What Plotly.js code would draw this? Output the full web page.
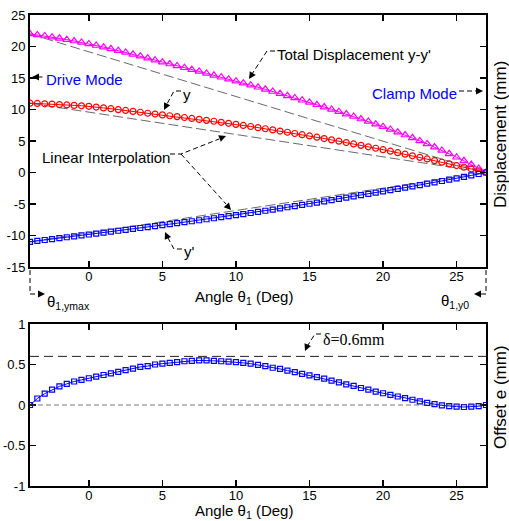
<!DOCTYPE html>
<html><head><meta charset="utf-8">
<script src="https://cdn.plot.ly/plotly-3.0.1.min.js"></script>
<style>html,body{margin:0;padding:0;background:#fff}#chart{width:509px;height:521px}</style>
</head><body><div id="chart"></div>
<script>
// ---- data ----
const angle = [-4,-3.5,-3,-2.5,-2,-1.5,-1,-0.5,0,0.5,1,1.5,2,2.5,3,3.5,4,4.5,5,5.5,6,6.5,7,7.5,8,8.5,9,9.5,10,10.5,11,11.5,12,12.5,13,13.5,14,14.5,15,15.5,16,16.5,17,17.5,18,18.5,19,19.5,20,20.5,21,21.5,22,22.5,23,23.5,24,24.5,25,25.5,26,26.5,27];
const yDisp = [11.00,10.96,10.90,10.85,10.78,10.72,10.65,10.59,10.51,10.39,10.25,10.13,9.98,9.85,9.70,9.56,9.40,9.28,9.14,9.01,8.87,8.73,8.58,8.43,8.28,8.13,7.97,7.81,7.64,7.47,7.30,7.12,6.94,6.76,6.58,6.39,6.19,6.00,5.80,5.60,5.39,5.18,4.97,4.75,4.53,4.31,4.08,3.85,3.62,3.38,3.14,2.90,2.65,2.40,2.15,1.89,1.63,1.37,1.10,0.83,0.56,0.28,0.00];
const yPrime = [-11.00,-10.86,-10.72,-10.57,-10.43,-10.28,-10.14,-9.99,-9.84,-9.69,-9.55,-9.40,-9.25,-9.10,-8.96,-8.81,-8.66,-8.51,-8.36,-8.20,-8.05,-7.89,-7.74,-7.58,-7.42,-7.26,-7.10,-6.93,-6.76,-6.60,-6.43,-6.25,-6.07,-5.89,-5.71,-5.52,-5.33,-5.15,-4.96,-4.77,-4.57,-4.38,-4.19,-3.99,-3.79,-3.60,-3.40,-3.20,-3.00,-2.80,-2.60,-2.40,-2.19,-1.99,-1.78,-1.57,-1.35,-1.14,-0.92,-0.70,-0.47,-0.24,0.00];
const totalDisp = [22.00,21.84,21.67,21.49,21.30,21.09,20.87,20.65,20.41,20.16,19.90,19.63,19.34,19.06,18.76,18.46,18.15,17.84,17.52,17.22,16.92,16.63,16.33,16.04,15.73,15.43,15.12,14.81,14.50,14.18,13.86,13.53,13.20,12.86,12.52,12.17,11.83,11.47,11.12,10.75,10.39,10.02,9.65,9.27,8.89,8.49,8.10,7.68,7.27,6.84,6.41,5.95,5.50,5.02,4.54,4.03,3.51,2.96,2.42,1.85,1.26,0.64,0.00];
const offsetE = [0.00,0.08,0.14,0.19,0.23,0.26,0.29,0.31,0.33,0.35,0.37,0.39,0.41,0.43,0.45,0.47,0.48,0.50,0.51,0.52,0.53,0.54,0.545,0.55,0.55,0.545,0.54,0.535,0.53,0.52,0.51,0.495,0.48,0.46,0.445,0.425,0.405,0.385,0.365,0.345,0.325,0.30,0.28,0.255,0.235,0.21,0.19,0.165,0.145,0.125,0.105,0.085,0.065,0.045,0.025,0.01,-0.005,-0.015,-0.02,-0.025,-0.02,-0.015,0.00];
const deltaLimit = 0.6;
const xTickVals = [0,5,10,15,20,25];
const xTickText = ['0','5','10','15','20','25'];
const yTopTickVals = [-15,-10,-5,0,5,10,15,20,25];
const yTopTickText = ['-15','-10','-5','0','5','10','15','20','25'];
const yBotTickVals = [-1,-0.5,0,0.5,1];
const yBotTickText = ['-1','-0.5','0','0.5','1'];

// ---- helpers (pixel -> paper) ----
const px = p => (p-30)/456;
const py = p => (486-p)/471;
const pathOf = pts => pts.map((q,i)=>(i?'L':'M')+px(q[0])+','+py(q[1])).join(' ');
const SANS = 'Liberation Sans, Arial, sans-serif';
const last = a => a[a.length-1];

function interp(series){
  return {x:[angle[0], last(angle)], y:[series[0], last(series)], mode:'lines', xaxis:'x', yaxis:'y',
    line:{color:'#444', width:0.8, dash:'10px,4px'}, hoverinfo:'skip', showlegend:false};
}
const traces = [
  interp(totalDisp), interp(yDisp), interp(yPrime),
  {x:angle, y:totalDisp, mode:'lines+markers', xaxis:'x', yaxis:'y',
   line:{color:'#ff00ff', width:1}, marker:{symbol:'triangle-up-open', size:7, color:'#ff00ff', line:{width:1.2}}},
  {x:angle, y:yDisp, mode:'lines+markers', xaxis:'x', yaxis:'y',
   line:{color:'#ff0000', width:1}, marker:{symbol:'circle-open', size:6, color:'#ff0000', line:{width:1.2}}},
  {x:angle, y:yPrime, mode:'lines+markers', xaxis:'x', yaxis:'y',
   line:{color:'#0000ff', width:1}, marker:{symbol:'square-open', size:5, color:'#0000ff', line:{width:1.2}}},
  {x:angle, y:offsetE, mode:'lines+markers', xaxis:'x2', yaxis:'y2',
   line:{color:'#0000ff', width:1}, marker:{symbol:'square-open', size:5, color:'#0000ff', line:{width:1.2}}}
];

const dashPath = pts => ({type:'path', xref:'paper', yref:'paper', path:pathOf(pts), line:{color:'#000', width:1, dash:'5px,3px'}});
const shapes = [
  dashPath([[275,51],[267,51],[252,74]]),
  dashPath([[181,91],[174,91],[167,104]]),
  dashPath([[170,154],[181,154],[219,139]]),
  dashPath([[181,154],[226,204]]),
  dashPath([[182,249],[174,249],[168,238]]),
  dashPath([[459,91],[476,91]]),
  dashPath([[30,270],[30,294],[38,294]]),
  dashPath([[486,270],[486,294],[480,294]]),
  dashPath([[321,334],[315,334],[308,345]]),
  {type:'line', xref:'paper', yref:'y2', x0:0, x1:1, y0:deltaLimit, y1:deltaLimit, line:{color:'#222', width:1, dash:'9px,5px'}},
  {type:'line', xref:'paper', yref:'y2', x0:0, x1:1, y0:0, y1:0, line:{color:'#555', width:0.8, dash:'5px,3px'}}
];

const arrow = (tx,ty,ax,ay) => ({xref:'paper', yref:'paper', x:px(tx), y:py(ty), ax:ax, ay:ay, text:'',
  showarrow:true, arrowhead:2, arrowsize:1.4, arrowwidth:1, arrowcolor:'#000'});
const label = (txt,x,y,xa,opts) => Object.assign({xref:'paper', yref:'paper', x:px(x), y:py(y), text:txt,
  showarrow:false, xanchor:xa, yanchor:'middle', font:{family:SANS, size:15, color:'#000'}}, opts||{});
const annotations = [
  arrow(249,79,4.5,-7), arrow(164,110,3.5,-7), arrow(226,136,-7.5,3), arrow(231,210,-5.4,-6),
  arrow(165,232,3,6.5), arrow(483,91,-8,0), arrow(32,77,12,0), arrow(45,294,-8,0), arrow(474,294,8,0),
  arrow(305,351,3,-7),
  label("Total Displacement y-y'",275,55,'left'),
  label('y',181,95,'left'),
  label('Linear Interpolation',40,157,'left'),
  label("y'",182,251,'left'),
  label('Drive Mode',44,80,'left',{font:{family:SANS,size:15,color:'#0000ff'}}),
  label('Clamp Mode',459,94,'right',{font:{family:SANS,size:15,color:'#0000ff'}}),
  label('θ<sub>1,ymax</sub>',45,302,'left'),
  label('θ<sub>1,y0</sub>',439,301,'left'),
  label('δ=0.6mm',321,339,'left',{font:{family:'Liberation Serif, Times New Roman, serif',size:16,color:'#000'}}),
  label('Angle θ<sub>1</sub> (Deg)',243.5,297,'center'),
  label('Angle θ<sub>1</sub> (Deg)',243.5,511,'center'),
  label('Displacement (mm)',500,135,'center',{textangle:-90,font:{family:SANS,size:17,color:'#000'}}),
  label('Offset e (mm)',500,397,'center',{textangle:-90,font:{family:SANS,size:17,color:'#000'}})
];

const axisBase = {showline:true, linecolor:'#000', linewidth:2, mirror:'ticks', ticks:'inside', ticklen:6,
  tickwidth:1.5, tickcolor:'#000', showgrid:false, zeroline:false, tickfont:{family:SANS, size:13, color:'#000'}};
const layout = {
  width:509, height:521, margin:{l:30, r:23, t:15, b:35}, paper_bgcolor:'#fff', plot_bgcolor:'#fff',
  showlegend:false, font:{family:SANS, color:'#000'},
  xaxis: Object.assign({}, axisBase, {domain:[0,1], anchor:'y', range:[-4,27], tickvals:xTickVals, ticktext:xTickText, ticklabelstandoff:-4}),
  yaxis: Object.assign({}, axisBase, {domain:[0.465,1], anchor:'x', range:[-15,25], tickvals:yTopTickVals, ticktext:yTopTickText}),
  xaxis2: Object.assign({}, axisBase, {domain:[0,1], anchor:'y2', range:[-4,27], tickvals:xTickVals, ticktext:xTickText, ticklabelstandoff:-4}),
  yaxis2: Object.assign({}, axisBase, {domain:[0,0.344], anchor:'x2', range:[-1,1], tickvals:yBotTickVals, ticktext:yBotTickText}),
  shapes: shapes, annotations: annotations
};
Plotly.newPlot('chart', traces, layout, {staticPlot:true, displayModeBar:false});
</script></body></html>
